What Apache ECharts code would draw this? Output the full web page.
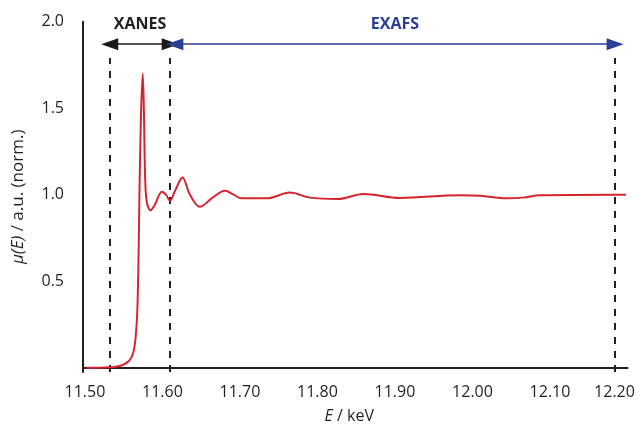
<!DOCTYPE html>
<html>
<head>
<meta charset="utf-8">
<script src="https://cdn.jsdelivr.net/npm/echarts@6/dist/echarts.min.js"></script>
<style>html,body{margin:0;padding:0;background:#fff}#c{width:639px;height:432px}</style>
</head>
<body>
<div id="c"></div>
<script>
// Energy (keV) and normalized absorption mu(E)
const energy = [11.502, 11.520, 11.532, 11.540, 11.546, 11.551, 11.555, 11.558, 11.561, 11.5635, 11.5655, 11.5675, 11.569, 11.5703, 11.5723, 11.5745, 11.576, 11.578, 11.5806, 11.5848, 11.590, 11.5994, 11.6045, 11.6097, 11.616, 11.6258, 11.6355, 11.6484, 11.664, 11.6806, 11.692, 11.702, 11.7345, 11.7645, 11.790, 11.8268, 11.859, 11.9065, 11.984, 12.0097, 12.044, 12.0655, 12.087, 12.184, 12.198];
const mu = [0.0, 0.0, 0.002, 0.006, 0.011, 0.02, 0.032, 0.046, 0.07, 0.11, 0.18, 0.32, 0.6, 1.0, 1.45, 1.70, 1.5, 1.05, 0.94, 0.91, 0.94, 1.017, 1.0, 0.965, 1.02, 1.10, 1.0, 0.93, 0.98, 1.023, 1.0, 0.979, 0.979, 1.012, 0.983, 0.975, 1.004, 0.981, 0.997, 0.994, 0.979, 0.983, 0.997, 1.0, 1.0];
const xTicks = [11.5, 11.6, 11.7, 11.8, 11.9, 12.0, 12.1, 12.2];
const yTicks = [0.5, 1.0, 1.5, 2.0];
// Region boundaries (keV)
const xanesRange = [11.532, 11.610];
const exafsRange = [11.616, 12.184];
const boundaries = [11.532, 11.610, 12.184];
const regionNames = ['XANES', 'EXAFS'];
const arrowLevel = 1.87;
const dashTop = 1.79;

const font = '"Open Sans", "Noto Sans", sans-serif';
const chart = echarts.init(document.getElementById('c'), null, {renderer: 'canvas'});

const dashLines = boundaries.map(b => [
  {coord: [b, -0.025], symbol: 'none'},
  {coord: [b, dashTop], symbol: 'none'}
]);

chart.setOption({
  animation: false,
  backgroundColor: '#fff',
  grid: {left: 83, right: 11.5, top: 21.7, bottom: 60, containLabel: false},
  xAxis: {
    type: 'value', min: 11.4975, max: 12.2,
    name: '{i|E} / keV',
    nameLocation: 'middle', nameGap: 36,
    nameTextStyle: {fontFamily: font, fontSize: 16, color: '#231f20', padding: [0, 12, 0, 0],
      rich: {i: {fontFamily: font, fontSize: 16, fontStyle: 'italic', color: '#231f20'}}},
    axisLine: {lineStyle: {color: '#231f20', width: 2}},
    axisTick: {show: false},
    splitLine: {show: false},
    axisLabel: {
      customValues: xTicks,
      margin: 12,
      fontFamily: font, fontSize: 16, color: '#231f20',
      formatter: v => Math.abs(v - 12.2) < 1e-6 ? '{r|' + v.toFixed(2) + '}' : v.toFixed(2),
      rich: {r: {fontFamily: font, fontSize: 16, color: '#231f20', padding: [0, 26, 0, 0]}}
    }
  },
  yAxis: {
    type: 'value', min: -0.025, max: 2.0,
    name: '{i|μ(E)} / a.u. (norm.)',
    nameLocation: 'middle', nameGap: 56, nameRotate: 90,
    nameTextStyle: {fontFamily: font, fontSize: 17, color: '#231f20',
      rich: {i: {fontFamily: font, fontSize: 17, fontStyle: 'italic', color: '#231f20'}}},
    axisLine: {show: true, lineStyle: {color: '#231f20', width: 2}},
    axisTick: {show: false},
    splitLine: {show: false},
    axisLabel: {
      customValues: yTicks,
      margin: 19,
      fontFamily: font, fontSize: 16, color: '#231f20',
      formatter: v => v.toFixed(1)
    }
  },
  series: [
    {
      type: 'line',
      data: energy.map((e, i) => [e, mu[i]]),
      smooth: 0.35,
      showSymbol: false,
      lineStyle: {color: '#d7232e', width: 2},
      z: 5,
      markLine: {
        silent: true, animation: false,
        symbol: 'none',
        lineStyle: {color: '#231f20', width: 2, type: [7, 7]},
        label: {show: false},
        data: dashLines
      }
    },
    {
      type: 'line', data: [],
      markLine: {
        silent: true, animation: false,
        symbol: ['triangle', 'triangle'], symbolSize: [12, 17],
        data: [
          [{coord: [xanesRange[0], arrowLevel], lineStyle: {color: '#1a1a1a', width: 1.5, type: 'solid'},
            label: {show: true, position: 'middle', formatter: regionNames[0], distance: 12,
              fontFamily: font, fontSize: 16, fontWeight: 'bold', color: '#231f20'}},
           {coord: [xanesRange[1], arrowLevel]}],
          [{coord: [exafsRange[0], arrowLevel], lineStyle: {color: '#2b3f94', width: 1.5, type: 'solid'},
            label: {show: true, position: 'middle', formatter: regionNames[1], distance: 12,
              fontFamily: font, fontSize: 16, fontWeight: 'bold', color: '#2b3f94'}},
           {coord: [exafsRange[1], arrowLevel]}]
        ]
      }
    }
  ]
});
</script>
</body>
</html>
